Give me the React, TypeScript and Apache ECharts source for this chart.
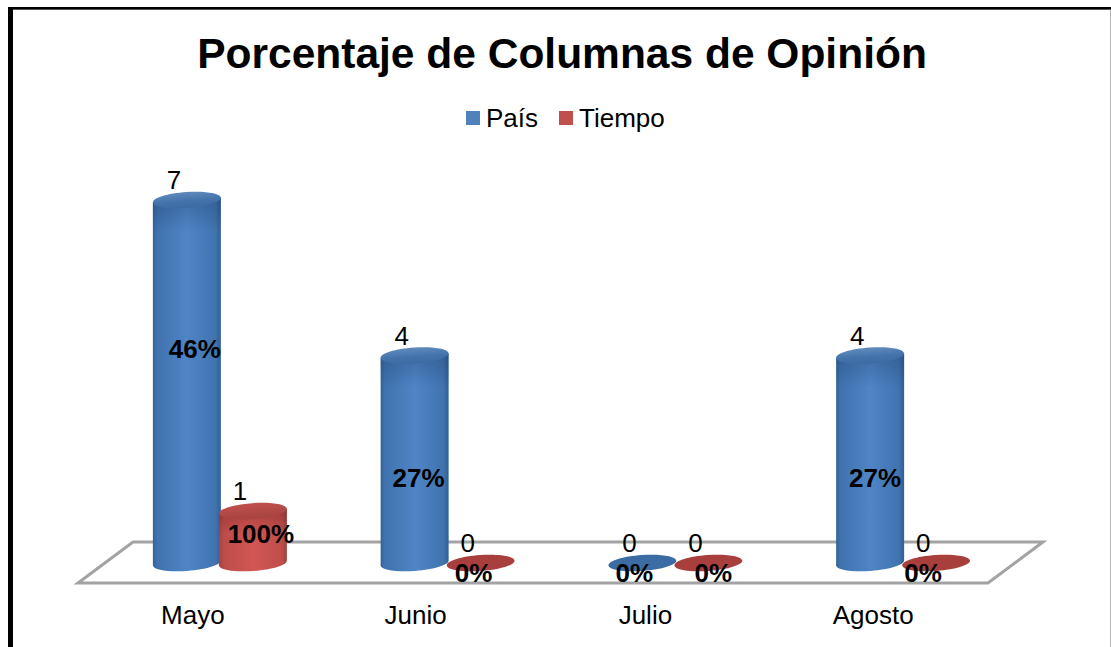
import React, { useEffect, useRef } from "react";
import * as echarts from "echarts";

const titleText = "Porcentaje de Columnas de Opinión";
const categories = ["Mayo", "Junio", "Julio", "Agosto"];
const paisValues = [7, 4, 0, 4];
const tiempoValues = [1, 0, 0, 0];
const paisPercent = [46, 27, 0, 27];
const tiempoPercent = [100, 0, 0, 0];

const FONT = '"Liberation Sans", Arial, sans-serif';
const RX = 34;
const RY = 8;
const TILT = 0.07;
const D = RX * TILT;

// Hand placement of the bold percentage labels: [dx, dy from the cylinder's base]
const PAIS_PCT_OFFSET = [[8, -214], [4, -85], [-8, 10], [5, -85]];
const TIEMPO_PCT_OFFSET = [[8, -29], [-7, 10], [5, 10], [-13, 10]];
// Right padding that shifts each category label left of its band centre
const LABEL_PAD = [54, 64, 60, 60];

const hGrad = (stops: [number, string][]) =>
  new echarts.graphic.LinearGradient(0, 0, 1, 0, stops.map(([offset, color]) => ({ offset, color })));
const vGrad = (stops: [number, string][]) =>
  new echarts.graphic.LinearGradient(0, 0, 0, 1, stops.map(([offset, color]) => ({ offset, color })));

const PALETTE = {
  blue: {
    legend: "#4F81BD",
    flat: "#3b6ca3",
    body: [[0, "#35639a"], [0.06, "#3f72ae"], [0.5, "#4f85c6"], [0.92, "#4074b0"], [1, "#325e92"]] as [number, string][],
    top: [[0, "#5f8abc"], [0.55, "#4473ac"], [1, "#3c6aa2"]] as [number, string][],
    shadow: "rgba(25,50,90,",
  },
  red: {
    legend: "#C0504D",
    flat: "#a83f3c",
    body: [[0, "#a34441"], [0.08, "#bd4d4a"], [0.5, "#d25653"], [0.92, "#bf4e4b"], [1, "#9f413e"]] as [number, string][],
    top: [[0, "#c0504d"], [0.6, "#b04845"], [1, "#a84340"]] as [number, string][],
    shadow: "rgba(90,20,20,",
  },
};

function makeRenderer(palette: typeof PALETTE.blue, percents: number[], pctOffset: number[][], barOffset: number) {
  return (params: any, api: any) => {
    const idx = api.value(0);
    const value = api.value(1);
    const [bandX, baseY] = api.coord([idx, 0]);
    const [, topY] = api.coord([idx, value]);
    const cx = bandX + barOffset;
    const children: any[] = [];
    const ellipse = (cy: number, fill: any) => ({
      type: "ellipse",
      x: cx,
      y: cy,
      rotation: TILT,
      shape: { cx: 0, cy: 0, rx: RX, ry: RY },
      style: { fill },
    });
    if (value > 0) {
      const h = baseY - topY;
      const quad = [
        [cx - RX, topY + D],
        [cx + RX, topY - D],
        [cx + RX, baseY - D],
        [cx - RX, baseY + D],
      ];
      children.push(ellipse(baseY, hGrad(palette.body)));
      children.push({ type: "polygon", shape: { points: quad }, style: { fill: hGrad(palette.body) } });
      const band = Math.min(0.45, 34 / h);
      children.push({
        type: "polygon",
        shape: { points: quad },
        style: {
          fill: vGrad([
            [0, palette.shadow + "0.32)"],
            [band, palette.shadow + "0)"],
            [1, palette.shadow + "0)"],
          ]),
        },
      });
      children.push(ellipse(topY, vGrad(palette.top)));
    } else {
      children.push(ellipse(baseY, palette.flat));
    }
    children.push({
      type: "text",
      z2: 10,
      style: {
        x: cx - 13,
        y: topY - 20,
        text: String(value),
        font: `26px ${FONT}`,
        fill: "#000",
        align: "center",
        verticalAlign: "middle",
      },
    });
    const [dx, dy] = pctOffset[idx];
    children.push({
      type: "text",
      z2: 11,
      style: {
        x: cx + dx,
        y: baseY + dy,
        text: `${percents[idx]}%`,
        font: `bold 26px ${FONT}`,
        fill: "#000",
        align: "center",
        verticalAlign: "middle",
      },
    });
    return { type: "group", children };
  };
}

export default function App() {
  const ref = useRef<HTMLDivElement>(null);
  useEffect(() => {
    const chart = echarts.init(ref.current!, null, { renderer: "svg", width: 1111, height: 647 });
    chart.setOption({
      animation: false,
      backgroundColor: "#fff",
      title: {
        text: titleText,
        left: 557,
        top: 27,
        textAlign: "center",
        textStyle: { fontFamily: FONT, fontWeight: "bold", fontSize: 42.5, color: "#000" },
      },
      legend: {
        left: 461,
        top: 100,
        icon: "rect",
        itemWidth: 14,
        itemHeight: 14,
        itemGap: 21,
        textStyle: { fontFamily: FONT, fontSize: 26, color: "#000", padding: [0, 0, 0, 1] },
        data: ["País", "Tiempo"],
      },
      grid: { left: 106, width: 911, top: 200, bottom: 84 },
      xAxis: {
        type: "category",
        data: categories.map((value, i) => ({
          value,
          textStyle: { padding: [0, LABEL_PAD[i], 0, 0] },
        })),
        axisLine: { show: false },
        axisTick: { show: false },
        splitLine: { show: false },
        axisLabel: {
          margin: 39,
          fontFamily: FONT,
          fontSize: 26,
          color: "#000",
        },
      },
      yAxis: { type: "value", min: 0, max: 7, show: false, splitLine: { show: false } },
      graphic: [
        {
          type: "polygon",
          silent: true,
          shape: { points: [[78, 583], [133, 542], [1043, 542], [988, 583]] },
          style: { fill: "none", stroke: "#a3a3a3", lineWidth: 3 },
        },
        { type: "rect", silent: true, shape: { x: 8, y: 7, width: 5, height: 640 }, style: { fill: "#000" } },
        { type: "rect", silent: true, shape: { x: 8, y: 7, width: 1103, height: 2 }, style: { fill: "#000" } },
        { type: "rect", silent: true, shape: { x: 13, y: 9, width: 1098, height: 1 }, style: { fill: "#555" } },
        { type: "rect", silent: true, shape: { x: 1110, y: 10, width: 1, height: 637 }, style: { fill: "#b5b5b5" } },
      ],
      series: [
        {
          name: "País",
          type: "custom",
          clip: false,
          itemStyle: { color: PALETTE.blue.legend },
          renderItem: makeRenderer(PALETTE.blue, paisPercent, PAIS_PCT_OFFSET, -33),
          data: paisValues.map((v, i) => [i, v]),
          encode: { x: 0, y: 1 },
        },
        {
          name: "Tiempo",
          type: "custom",
          clip: false,
          itemStyle: { color: PALETTE.red.legend },
          renderItem: makeRenderer(PALETTE.red, tiempoPercent, TIEMPO_PCT_OFFSET, 33),
          data: tiempoValues.map((v, i) => [i, v]),
          encode: { x: 0, y: 1 },
        },
      ],
    });
    return () => chart.dispose();
  }, []);
  return <div ref={ref} style={{ position: "absolute", left: 0, top: 0, width: 1111, height: 647 }} />;
}
